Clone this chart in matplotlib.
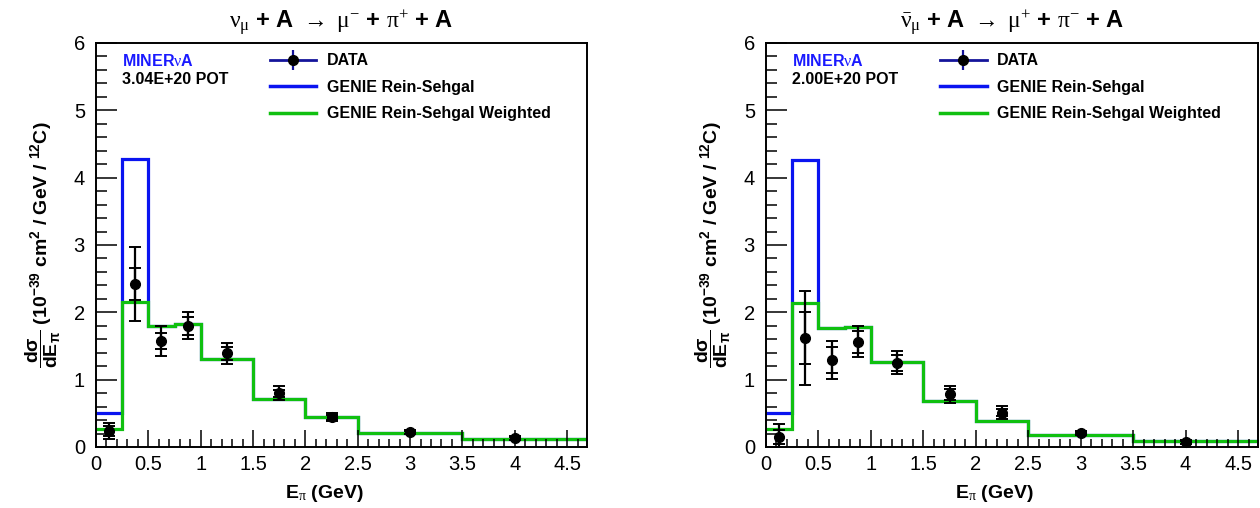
import numpy as np
import matplotlib
matplotlib.use('Agg')
import matplotlib.pyplot as plt
from matplotlib.lines import Line2D
from matplotlib.ticker import MultipleLocator

plt.rcParams['font.family'] = ['Liberation Sans', 'DejaVu Sans']
plt.rcParams['mathtext.fontset'] = 'custom'
plt.rcParams['mathtext.rm'] = 'Liberation Serif'
plt.rcParams['mathtext.bf'] = 'Liberation Sans:bold'
plt.rcParams['mathtext.it'] = 'Liberation Serif'

# bin edges (GeV) and bin centres
edges = [0, 0.25, 0.5, 0.75, 1.0, 1.5, 2.0, 2.5, 3.5, 4.69]
centers = [0.125, 0.375, 0.625, 0.875, 1.25, 1.75, 2.25, 3.0, 4.0]

# neutrino
nu_genie = [0.51, 4.27, 1.79, 1.82, 1.31, 0.72, 0.44, 0.21, 0.12]
nu_weighted = [0.26, 2.15, 1.79, 1.82, 1.31, 0.72, 0.44, 0.21, 0.12]
nu_data = [0.24, 2.42, 1.57, 1.80, 1.39, 0.80, 0.44, 0.22, 0.13]
nu_stat = [0.07, 0.24, 0.12, 0.13, 0.10, 0.05, 0.04, 0.02, 0.02]
nu_tot = [0.12, 0.55, 0.22, 0.20, 0.16, 0.10, 0.06, 0.03, 0.03]

# antineutrino
nub_genie = [0.51, 4.26, 1.77, 1.78, 1.26, 0.68, 0.38, 0.18, 0.09]
nub_weighted = [0.26, 2.14, 1.77, 1.78, 1.26, 0.68, 0.38, 0.18, 0.09]
nub_data = [0.15, 1.62, 1.29, 1.56, 1.25, 0.78, 0.51, 0.21, 0.07]
nub_stat = [0.10, 0.38, 0.19, 0.17, 0.12, 0.08, 0.05, 0.02, 0.02]
nub_tot = [0.19, 0.70, 0.28, 0.23, 0.17, 0.12, 0.10, 0.03, 0.03]

titles = [r'$\mathrm{\nu_{\mu}}$ $\mathbf{+\ A}$ $\mathrm{\rightarrow\ \mu^{-}}$ $\mathbf{+}$ $\mathrm{\pi^{+}}$ $\mathbf{+\ A}$',
          r'$\mathrm{\bar{\nu}_{\mu}}$ $\mathbf{+\ A}$ $\mathrm{\rightarrow\ \mu^{+}}$ $\mathbf{+}$ $\mathrm{\pi^{-}}$ $\mathbf{+\ A}$']
pots = ['3.04E+20 POT', '2.00E+20 POT']

blue = '#0a14f0'
green = '#10c010'
navy = '#14149a'

fig = plt.figure(figsize=(12.6, 5.08), dpi=100)
axes = [fig.add_axes([96/1260, 61/508, 491/1260, 404/508]),
        fig.add_axes([766/1260, 61/508, 492/1260, 404/508])]

sets = [(nu_genie, nu_weighted, nu_data, nu_stat, nu_tot),
        (nub_genie, nub_weighted, nub_data, nub_stat, nub_tot)]

for i, ax in enumerate(axes):
    genie, weighted, data, stat, tot = sets[i]
    ax.stairs(genie, edges, baseline=None, color=blue, lw=2.3)
    ax.stairs(weighted, edges, baseline=None, color=green, lw=2.3)
    ax.errorbar(centers, data, yerr=tot, fmt='none', ecolor='k', elinewidth=1.6,
                capsize=4, capthick=1.4)
    ax.errorbar(centers, data, yerr=stat, fmt='o', color='k', ms=7, elinewidth=1.6,
                capsize=4, capthick=1.4, clip_on=False)

    ax.set_xlim(0, 4.69)
    ax.set_ylim(0, 6)
    ax.xaxis.set_minor_locator(MultipleLocator(0.1))
    ax.yaxis.set_major_locator(MultipleLocator(1))
    ax.yaxis.set_minor_locator(MultipleLocator(0.2))
    ax.set_xticks([0, 0.5, 1, 1.5, 2, 2.5, 3, 3.5, 4, 4.5])
    ax.set_xticklabels(['0', '0.5', '1', '1.5', '2', '2.5', '3', '3.5', '4', '4.5'])
    ax.tick_params(which='both', direction='in', top=False, right=False, labelsize=14.5,
                   colors='k')
    ax.tick_params(axis='y', which='major', length=15, width=1.1, pad=8)
    ax.tick_params(axis='y', which='minor', length=8, width=1.1)
    ax.tick_params(axis='x', which='major', length=12, width=1.1, pad=6)
    ax.tick_params(axis='x', which='minor', length=6, width=1.1)
    for s in ax.spines.values():
        s.set_linewidth(1.4)

    ax.set_title(titles[i], fontsize=17, fontweight='bold', pad=10)
    ax.set_xlabel(r'$\mathbf{E}_{\mathrm{\pi}}$ (GeV)', fontsize=14, fontweight='bold')
    ax.xaxis.set_label_coords(0.465, -0.09)
    ax.set_ylabel(r'$\mathbf{\dfrac{d\sigma}{dE_{\pi}}}$ (10$^{\mathbf{-39}}$ cm$^{\mathbf{2}}$ / GeV / $^{\mathbf{12}}$C)',
                  fontsize=14, fontweight='bold', labelpad=8)

    ax.text(0.052, 0.955, r'MINER$\mathrm{\nu}$A', transform=ax.transAxes, color='#1a1aff',
            fontsize=11.5, fontweight='bold', va='center')
    ax.text(0.052, 0.91, pots[i], transform=ax.transAxes, color='k',
            fontsize=11.5, fontweight='bold', va='center')

    data_handle = (Line2D([], [], color=navy, lw=2),
                   Line2D([], [], color=navy, lw=0, marker='|', ms=14, mew=1.6),
                   Line2D([], [], lw=0, marker='o', mfc='k', mec='k', ms=7))
    handles = [data_handle,
               Line2D([], [], color=blue, lw=2.5),
               Line2D([], [], color=green, lw=2.5)]
    ax.legend(handles, ['DATA', 'GENIE Rein-Sehgal', 'GENIE Rein-Sehgal Weighted'],
              loc='upper left', bbox_to_anchor=(0.325, 1.01), frameon=False,
              prop={'weight': 'bold', 'size': 11.5}, handlelength=2.9,
              labelspacing=0.72, handletextpad=0.65)

fig.savefig('out.png', dpi=100)
